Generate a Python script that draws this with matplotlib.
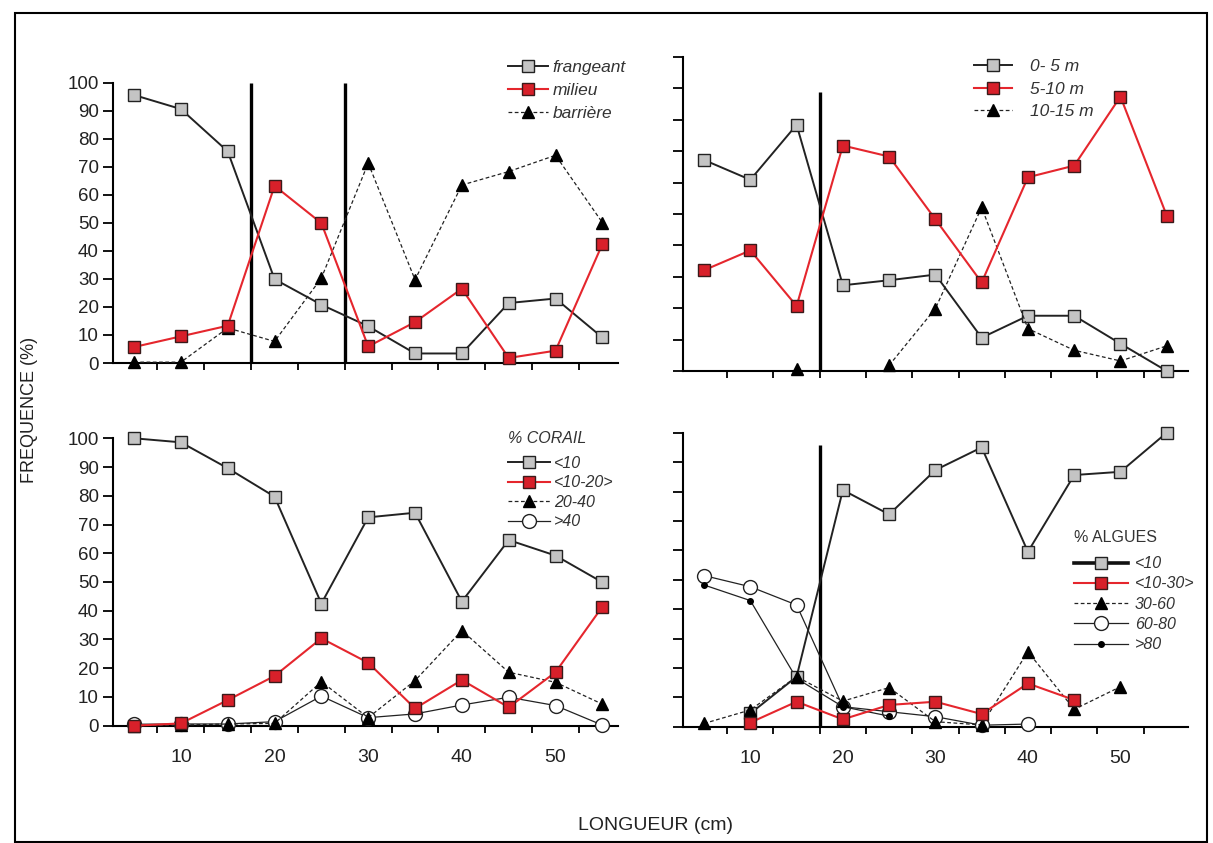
import numpy as np
import matplotlib
matplotlib.use("Agg")
import matplotlib.pyplot as plt
from matplotlib.lines import Line2D
from matplotlib.patches import Rectangle

plt.rcParams['font.family'] = ['Liberation Sans', 'DejaVu Sans']

nan = np.nan
longueur = [5, 10, 15, 20, 25, 30, 35, 40, 45, 50, 55]
x_labels = [10, 20, 30, 40, 50]

# Panel 1: reef type
frangeant = [95.6, 90.6, 75.5, 29.9, 20.8, 13.1, 3.4, 3.4, 21.4, 23.0, 9.1]
milieu = [5.7, 9.5, 13.3, 63.2, 49.9, 5.9, 14.6, 26.5, 1.8, 4.4, 42.4]
barriere = [0.3, 0.3, 12.5, 7.7, 30.3, 71.3, 29.7, 63.5, 68.3, 74.1, 50.1]

# Panel 2: depth
d0_5 = [67.2, 60.9, 78.4, 27.3, 28.9, 30.7, 10.6, 17.6, 17.6, 8.7, 0.0]
d5_10 = [32.1, 38.4, 20.7, 71.8, 68.3, 48.3, 28.2, 61.7, 65.4, 87.4, 49.5]
d10_15 = [nan, nan, 0.7, nan, 1.8, 19.9, 52.1, 13.5, 6.6, 3.2, 8.0]

# Panel 3: % corail
cor_lt10 = [100.0, 98.6, 89.6, 79.7, 42.5, 72.5, 74.1, 43.2, 64.6, 59.2, 49.9]
cor_10_20 = [0.0, 0.8, 8.9, 17.3, 30.4, 21.9, 6.0, 15.9, 6.4, 18.6, 41.4]
cor_20_40 = [0.0, 0.2, 0.6, 0.8, 15.3, 2.8, 15.7, 33.1, 18.6, 15.1, 7.5]
cor_gt40 = [0.5, 0.6, 0.6, 1.4, 10.3, 2.8, 4.1, 7.2, 9.9, 7.0, 0.2]

# Panel 4: % algues
alg_lt10 = [nan, 4.5, 17.0, 80.5, 72.2, 87.3, 95.0, 59.5, 85.6, 86.7, 100.0]
alg_10_30 = [nan, 1.4, 8.5, 2.5, 7.4, 8.5, 4.3, 14.7, 9.1, nan, nan]
alg_30_60 = [1.1, 5.7, 17.0, 8.7, 13.3, 1.7, 0.6, 25.5, 5.9, 13.6, nan]
alg_60_80 = [51.4, 47.6, 41.4, 6.8, 5.1, 3.4, 0.5, 0.9, nan, nan, nan]
alg_gt80 = [48.2, 42.9, 16.4, 6.8, 3.6, nan, nan, nan, nan, nan, nan]

W, H = 1213, 843
fig = plt.figure(figsize=(W / 100, H / 100), dpi=100)

def px_axes(x0, x1, ytop, ybot):
    return fig.add_axes([x0 / W, 1 - ybot / H, (x1 - x0) / W, (ybot - ytop) / H])

axTL = px_axes(112.7, 618, 82.7, 363)
axTR = px_axes(682.7, 1188, 57, 371)
axBL = px_axes(112.7, 618, 438.3, 725.7)
axBR = px_axes(682.7, 1188, 432.7, 726.7)

GRAY = '#c4c4c4'
RED = '#e5262d'
REDF = '#d8202a'

def gray_sq(ax, y, label, ms=8.5):
    return ax.plot(longueur, y, color='#222222', lw=1.4, marker='s', ms=ms,
                   mfc=GRAY, mec='#222222', mew=1.0, label=label, clip_on=False, zorder=4)[0]

def red_sq(ax, y, label, ms=8):
    return ax.plot(longueur, y, color=RED, lw=1.5, marker='s', ms=ms,
                   mfc=REDF, mec='#3a1a1a', mew=1.0, label=label, clip_on=False, zorder=5)[0]

def tri(ax, y, label, ms=8):
    return ax.plot(longueur, y, color='#222222', lw=0.9, ls=(0, (3, 2)), marker='^', ms=ms,
                   mfc='black', mec='black', label=label, clip_on=False, zorder=4)[0]

def circ(ax, y, label, ms=10):
    return ax.plot(longueur, y, color='#222222', lw=0.9, marker='o', ms=ms,
                   mfc='white', mec='#222222', mew=1.0, label=label, clip_on=False, zorder=3)[0]

def dot(ax, y, label):
    return ax.plot(longueur, y, color='#222222', lw=0.9, marker='o', ms=4,
                   mfc='black', mec='black', label=label, clip_on=False, zorder=3)[0]

def style(ax, xl, show_ylabels, show_xlabels):
    ax.set_xlim(*xl)
    ax.set_ylim(0, 100)
    for s in ['top', 'right']:
        ax.spines[s].set_visible(False)
    ax.spines['left'].set_linewidth(1.5)
    ax.spines['bottom'].set_linewidth(1.5)
    ax.set_yticks(np.arange(0, 101, 10))
    ax.tick_params(axis='y', direction='out', length=7, width=1.3, labelsize=13.5,
                   labelleft=show_ylabels, pad=3, labelcolor='#222222')
    ax.set_xticks(np.arange(7.5, 55, 5), minor=True)
    ax.tick_params(axis='x', which='minor', direction='out', length=5, width=1.3)
    if show_xlabels:
        ax.set_xticks(x_labels)
        ax.set_xticklabels([str(v) for v in x_labels])
        ax.tick_params(axis='x', which='major', length=0, labelsize=14, pad=17,
                       labelcolor='#222222')
    else:
        ax.set_xticks([])
    ax.patch.set_alpha(0)

# Top-left
h1 = [gray_sq(axTL, frangeant, 'frangeant'), red_sq(axTL, milieu, 'milieu'),
      tri(axTL, barriere, 'barrière')]
axTL.vlines([17.5, 27.5], 0, 100, color='black', lw=2.4, zorder=2)
style(axTL, (2.72, 56.67), True, False)
axTL.legend(handles=h1, loc='upper left', bbox_to_anchor=(508 / W, 1 - 60 / H),
            bbox_transform=fig.transFigure, frameon=False,
            prop={'style': 'italic', 'size': 12.5}, handlelength=2.3, handletextpad=0.25,
            labelspacing=0.45, borderpad=0, borderaxespad=0, labelcolor='#333333')

# Top-right
h2 = [gray_sq(axTR, d0_5, '0- 5 m'), red_sq(axTR, d5_10, '5-10 m'),
      tri(axTR, d10_15, '10-15 m')]
axTR.vlines([17.5], 0, 89, color='black', lw=2.4, zorder=2)
style(axTR, (2.69, 57.3), False, False)
axTR.legend(handles=h2, loc='upper left', bbox_to_anchor=(974 / W, 1 - 59 / H),
            bbox_transform=fig.transFigure, frameon=False,
            prop={'style': 'italic', 'size': 12.5}, handlelength=2.2, handletextpad=1.0,
            labelspacing=0.42, borderpad=0, borderaxespad=0, labelcolor='#333333')

# Bottom-left
h3 = [gray_sq(axBL, cor_lt10, '<10'), red_sq(axBL, cor_10_20, '<10-20>'),
      tri(axBL, cor_20_40, '20-40'), circ(axBL, cor_gt40, '>40')]
style(axBL, (2.72, 56.67), True, True)
lg3 = axBL.legend(handles=h3, loc='upper left', bbox_to_anchor=(508 / W, 1 - 431 / H),
                  bbox_transform=fig.transFigure, frameon=False, title='% CORAIL',
                  prop={'style': 'italic', 'size': 11.5}, handlelength=2.6,
                  handletextpad=0.3, labelspacing=0.28, borderpad=0, borderaxespad=0,
                  labelcolor='#333333', alignment='left',
                  title_fontproperties={'size': 11.5, 'style': 'italic'})
lg3.get_title().set_color('#333333')
lg3._legend_box.sep = 7

# Bottom-right
l_lt10 = gray_sq(axBR, alg_lt10, '<10')
h4 = [Line2D([], [], color='#111111', lw=2.6, marker='s', ms=8.5, mfc=GRAY, mec='#222222'),
      red_sq(axBR, alg_10_30, '<10-30>'), tri(axBR, alg_30_60, '30-60'),
      circ(axBR, alg_60_80, '60-80'), dot(axBR, alg_gt80, '>80')]
axBR.vlines([17.5], 0, 95.8, color='black', lw=2.4, zorder=2)
style(axBR, (2.69, 57.3), False, True)
lg4 = axBR.legend(handles=h4, labels=['<10', '<10-30>', '30-60', '60-80', '>80'],
                  loc='upper left', bbox_to_anchor=(1074 / W, 1 - 530 / H),
                  bbox_transform=fig.transFigure, frameon=False, title='% ALGUES',
                  prop={'style': 'italic', 'size': 11.5}, handlelength=3.4,
                  handletextpad=0.4, labelspacing=0.33, borderpad=0, borderaxespad=0,
                  labelcolor='#333333', alignment='left',
                  title_fontproperties={'size': 11.5})
lg4.get_title().set_color('#333333')
lg4._legend_box.sep = 8

fig.text(30 / W, 1 - 410 / H, 'FREQUENCE (%)', rotation=90, ha='center', va='center',
         fontsize=13, color='#222222')
fig.text(655 / W, 1 - 826 / H, 'LONGUEUR (cm)', ha='center', va='center',
         fontsize=14, color='#222222')

fig.patches.append(Rectangle((15 / W, 1 / H), (1207 - 15) / W, (842 - 13) / H,
                             transform=fig.transFigure, fill=False, ec='black', lw=1.5))

fig.savefig('out.png', dpi=100)
